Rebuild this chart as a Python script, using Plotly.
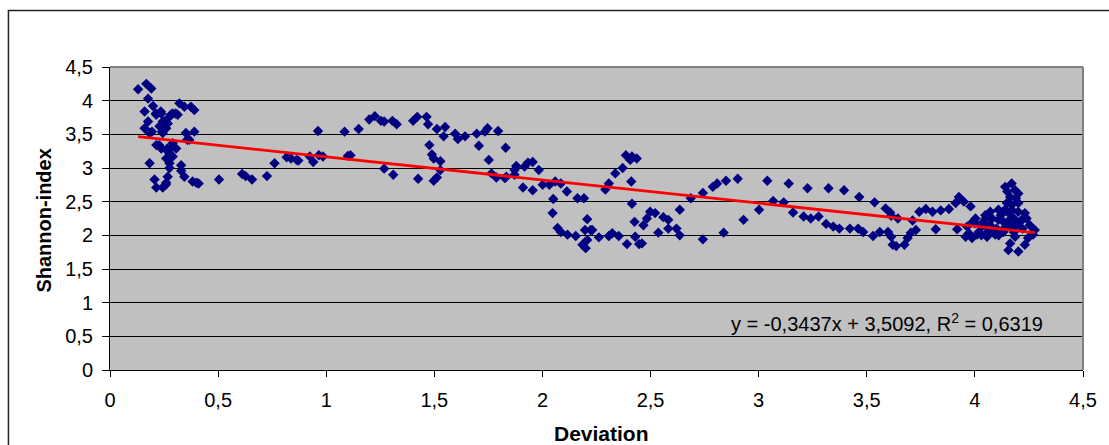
import plotly.graph_objects as go

# ---- data ----
deviation = [
    0.13, 0.168, 0.191, 0.176, 0.199, 0.16, 0.176, 0.16, 0.183, 0.214, 0.237, 0.244, 0.229, 0.26,
    0.267, 0.275, 0.29, 0.313, 0.321, 0.344, 0.374, 0.39, 0.244, 0.351, 0.39, 0.367, 0.214, 0.237,
    0.26, 0.29, 0.306, 0.275, 0.29, 0.26, 0.275, 0.183, 0.275, 0.329, 0.329, 0.267, 0.344, 0.206,
    0.214, 0.244, 0.26, 0.382, 0.41, 0.194, 0.24, 0.25, 0.281, 0.304, 0.357, 0.228, 0.266, 0.289,
    0.281, 0.266, 0.212, 0.235, 0.258, 0.40,
    0.504, 0.611, 0.627, 0.657, 0.726, 0.761, 0.817, 0.837, 0.863,
    0.871, 0.924, 0.94, 0.962, 0.966, 0.985, 1.085, 1.10, 1.112, 1.15, 1.199, 1.225, 1.253, 1.268,
    1.268, 1.306, 1.31, 1.326, 1.402, 1.421, 1.425, 1.464, 1.471, 1.477, 1.489, 1.497, 1.497, 1.512,
    1.512, 1.528, 1.528, 1.543, 1.55, 1.596, 1.609, 1.642, 1.696, 1.706, 1.734, 1.746, 1.752, 1.764,
    1.787, 1.795, 1.826, 1.83, 1.871, 1.871,
    1.833, 1.879, 1.91, 1.917, 1.933, 1.955, 1.955, 1.983, 2.001, 2.032, 2.047, 2.05, 2.059, 2.07,
    2.085, 2.085, 2.113, 2.116, 2.154, 2.162, 2.185, 2.192, 2.197, 2.2, 2.207, 2.207, 2.223, 2.23,
    2.261, 2.291, 2.307, 2.307, 2.323, 2.337, 2.353, 2.371, 2.386, 2.391, 2.406, 2.411, 2.414, 2.414,
    2.426, 2.429, 2.436, 2.447, 2.46, 2.467, 2.483, 2.498, 2.521, 2.536, 2.559, 2.582, 2.582, 2.62,
    2.635, 2.635, 2.686, 2.742, 2.742, 2.788,
    2.808, 2.838, 2.849, 2.903, 2.93, 3.002, 3.04, 3.067, 3.116, 3.139, 3.159, 3.208, 3.226, 3.241,
    3.277, 3.312, 3.323, 3.345, 3.373, 3.395, 3.422, 3.46, 3.465, 3.483, 3.529, 3.536, 3.56, 3.587,
    3.598, 3.608, 3.62,
    3.613, 3.613, 3.636, 3.644, 3.674, 3.689, 3.704, 3.712, 3.727, 3.743, 3.773, 3.804, 3.819, 3.842,
    3.88, 3.911, 3.918, 3.926, 3.949, 3.957, 3.964, 3.972, 3.98, 3.987, 4.003, 4.01, 4.018, 4.033,
    4.048, 4.056, 4.063, 4.071, 4.086, 4.094, 4.109, 4.109, 4.132, 4.132, 4.14, 4.14, 4.148, 4.155,
    4.163, 4.163, 4.17, 4.17, 4.17, 4.186, 4.186, 4.201, 4.201, 4.201, 4.216, 4.231, 4.231, 4.239,
    4.246, 4.254, 4.269, 4.277,
    4.0, 4.04, 4.06, 4.08, 4.10, 4.12, 4.15, 4.16, 4.18, 4.19, 4.20, 4.22, 4.03, 4.07, 4.11, 4.14,
    4.18, 4.21, 3.99, 4.05, 4.13, 4.17, 4.19, 4.15,
]
shannon = [
    4.17, 4.25, 4.18, 4.03, 3.92, 3.84, 3.69, 3.59, 3.52, 3.79, 3.81, 3.69, 3.62, 3.59,
    3.66, 3.76, 3.81, 3.79, 3.96, 3.91, 3.91, 3.86, 3.52, 3.52, 3.54, 3.42, 3.34, 3.29,
    3.27, 3.37, 3.29, 3.22, 3.17, 3.14, 3.07, 3.07, 3.0, 3.04, 2.96, 2.87, 2.87, 2.83,
    2.71, 2.71, 2.78, 2.80, 2.77, 3.54, 3.54, 3.69, 3.79, 3.81, 3.42, 3.34, 3.29, 3.32,
    3.19, 3.14, 3.81, 3.84, 2.75, 2.78,
    2.83, 2.91, 2.88, 2.83, 2.88, 3.07, 3.16, 3.14, 3.12,
    3.11, 3.17, 3.09, 3.55, 3.19, 3.17, 3.54, 3.18, 3.19, 3.58, 3.72, 3.77, 3.70, 3.69,
    2.99, 3.70, 2.90, 3.65, 3.70, 3.76, 2.84, 3.76, 3.65, 3.34, 3.20, 3.14, 2.81, 3.58,
    2.86, 3.10, 2.97, 3.47, 3.61, 3.51, 3.43, 3.47, 3.51, 3.33, 3.54, 3.59, 3.12, 2.92,
    2.86, 3.55, 2.85, 3.30, 2.97, 2.90,
    2.87, 3.03, 2.71, 3.02, 3.08, 3.09, 2.67, 2.97, 2.75, 2.75, 2.33, 2.54, 2.80, 2.11,
    2.77, 2.05, 2.65, 2.01, 1.99, 2.55, 1.86, 2.55, 2.08, 1.81, 1.93, 2.24, 2.08, 2.08,
    1.97, 2.68, 1.99, 2.77, 2.03, 2.92, 1.99, 3.0, 3.19, 1.87, 3.12, 2.80, 3.17, 2.47,
    2.20, 1.98, 3.14, 1.87, 1.88, 2.15, 2.25, 2.35, 2.33, 2.04, 2.27, 2.23, 2.10, 2.10,
    2.0, 2.38, 2.55, 2.63, 1.94, 2.72,
    2.77, 2.04, 2.81, 2.84, 2.23, 2.38, 2.81, 2.51, 2.49, 2.77, 2.34, 2.28, 2.70, 2.25,
    2.28, 2.17, 2.70, 2.13, 2.10, 2.67, 2.10, 2.10, 2.57, 2.05, 1.99, 2.49, 2.05, 2.40,
    2.05, 2.34, 1.86,
    2.29, 1.98, 1.84, 2.25, 1.86, 1.96, 2.04, 2.22, 2.08, 2.35, 2.39, 2.35, 2.09, 2.37,
    2.39, 2.48, 2.09, 2.57, 2.50, 1.98, 2.13, 2.03, 2.43, 1.96, 2.25, 2.01, 2.05, 2.13,
    2.30, 1.98, 2.10, 2.35, 2.08, 2.01, 2.23, 2.38, 2.20, 2.05, 2.72, 2.38, 2.48, 1.78,
    2.57, 1.88, 2.77, 2.38, 2.13, 2.67, 1.98, 2.62, 2.48, 1.76, 2.23, 2.33, 1.86, 2.25,
    1.96, 2.15, 2.01, 2.08,
    2.18, 2.20, 2.05, 2.25, 2.10, 2.30, 2.20, 2.32, 2.25, 2.15, 2.35, 2.10, 2.00, 2.15, 2.00, 2.12,
    2.05, 2.20, 2.20, 2.25, 2.35, 2.45, 2.55, 2.65,
]

# linear trendline as stated on the chart
slope = -0.3437
intercept = 3.5092
r_squared = 0.6319

x_tick_vals = [0, 0.5, 1, 1.5, 2, 2.5, 3, 3.5, 4, 4.5]
x_tick_text = ["0", "0,5", "1", "1,5", "2", "2,5", "3", "3,5", "4", "4,5"]
y_tick_vals = [0, 0.5, 1, 1.5, 2, 2.5, 3, 3.5, 4, 4.5]
y_tick_text = ["0", "0,5", "1", "1,5", "2", "2,5", "3", "3,5", "4", "4,5"]

x_title = "Deviation"
y_title = "Shannon-index"

def fmt(v):
    return f"{v:.4f}".replace(".", ",")

eq_text = f"y = {fmt(slope)}x + {fmt(intercept)}, R<sup>2</sup> = {fmt(r_squared)}"

x_lo, x_hi = min(deviation), max(deviation)
trend_x = [x_lo, x_hi]
trend_y = [slope * v + intercept for v in trend_x]

FONT = "Liberation Sans, Arial, sans-serif"

W, H = 1109, 445
L, R, T, B = 110, 17, 67, 75
pw, ph = W - L - R, H - T - B

def px2paper_x(px):
    return (px - L) / pw

def px2paper_y(py):
    return (H - B - py) / ph

fig = go.Figure()
fig.add_trace(go.Scatter(
    x=deviation, y=shannon, mode="markers",
    marker=dict(symbol="diamond", size=8, color="#000080", line=dict(width=0)),
    showlegend=False, hoverinfo="x+y",
))
fig.add_trace(go.Scatter(
    x=trend_x, y=trend_y, mode="lines",
    line=dict(color="#FF0000", width=2.8),
    showlegend=False, hoverinfo="skip",
))

fig.update_layout(
    width=W, height=H,
    margin=dict(l=L, r=R, t=T, b=B, pad=0),
    paper_bgcolor="white",
    plot_bgcolor="#C0C0C0",
    font=dict(family=FONT, size=20, color="black"),
    xaxis=dict(
        range=[0, 4.5], tickvals=x_tick_vals, ticktext=x_tick_text,
        showgrid=False, zeroline=False,
        showline=True, linecolor="black", linewidth=1,
        ticks="outside", ticklen=6, tickcolor="black", tickwidth=1,
        ticklabelstandoff=6,
        tickfont=dict(family=FONT, size=20, color="black"),
    ),
    yaxis=dict(
        range=[0, 4.5], tickvals=y_tick_vals, ticktext=y_tick_text,
        showgrid=True, gridcolor="black", gridwidth=1, zeroline=False,
        showline=True, linecolor="black", linewidth=1,
        ticks="outside", ticklen=7, tickcolor="black", tickwidth=1,
        ticklabelstandoff=5,
        tickfont=dict(family=FONT, size=20, color="black"),
    ),
    shapes=[
        # plot-area border (grey) on top/right
        dict(type="line", xref="paper", yref="paper", x0=0, x1=1, y0=1, y1=1,
             line=dict(color="#808080", width=2), layer="above"),
        dict(type="line", xref="paper", yref="paper", x0=1, x1=1, y0=0, y1=1,
             line=dict(color="#808080", width=2), layer="above"),
        # outer chart border
        dict(type="rect", xref="paper", yref="paper",
             x0=px2paper_x(7.5), x1=px2paper_x(1120), y0=px2paper_y(460), y1=px2paper_y(10.5),
             line=dict(color="#222222", width=1.5), fillcolor="rgba(0,0,0,0)", layer="above"),
    ],
    annotations=[
        dict(text=f"<b>{y_title}</b>", xref="paper", yref="paper",
             x=px2paper_x(43), y=px2paper_y(221), textangle=-90, showarrow=False,
             xanchor="center", yanchor="middle", font=dict(family=FONT, size=20, color="black")),
        dict(text=f"<b>{x_title}</b>", xref="paper", yref="paper",
             x=px2paper_x(606), y=px2paper_y(433), showarrow=False,
             xanchor="center", yanchor="middle", font=dict(family=FONT, size=21, color="black")),
        dict(text=eq_text, xref="paper", yref="paper",
             x=px2paper_x(894), y=px2paper_y(322), showarrow=False,
             xanchor="center", yanchor="middle", font=dict(family=FONT, size=20, color="black")),
    ],
)

fig.write_html("out.html")
